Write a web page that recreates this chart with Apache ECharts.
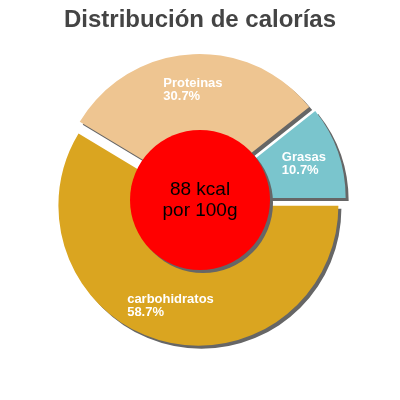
<!DOCTYPE html>
<html>
<head>
<meta charset="utf-8">
<script src="https://cdn.jsdelivr.net/npm/echarts@6/dist/echarts.min.js"></script>
<style>
  html, body { margin: 0; padding: 0; background: #fff; }
  #chart { width: 400px; height: 400px; }
</style>
</head>
<body>
<div id="chart"></div>
<script>
const categories = ['carbohidratos', 'Proteinas', 'Grasas']
const percents = [58.7, 30.7, 10.7]
const sliceColors = ['#DAA520', '#EEC591', '#7AC5CD']
const centerLines = ['88 kcal', 'por 100g']
const titleText = 'Distribución de calorías'

const shadow = {
  shadowColor: '#666',
  shadowBlur: 0,
  shadowOffsetX: 3,
  shadowOffsetY: 3
}

const myChart = echarts.init(document.getElementById('chart'))
const options = {
  animation: false,
  title: {
    text: titleText,
    left: 'center',
    top: 3,
    textStyle: {
      fontFamily: 'Liberation Sans, Arial, sans-serif',
      fontSize: 24,
      fontWeight: 'bold',
      color: '#444'
    }
  },
  series: [
    {
      type: 'pie',
      center: [200, 200],
      // inner edge hides under the red circle
      radius: ['31%', '70%'],
      startAngle: 0,
      clockwise: true,
      selectedMode: 'multiple',
      selectedOffset: 6,
      avoidLabelOverlap: false,
      emphasis: { disabled: true },
      silent: true,
      itemStyle: { ...shadow },
      label: {
        show: true,
        position: 'inside',
        formatter: '{t|{b}}\n{t|{c}%}',
        rich: {
          t: {
            align: 'left',
            color: '#fff',
            fontFamily: 'Liberation Sans, Arial, sans-serif',
            fontSize: 13,
            fontWeight: 'bold',
            lineHeight: 13
          }
        }
      },
      labelLine: { show: false },
      data: categories.map((name, i) => ({
        name,
        value: percents[i],
        selected: true,
        itemStyle: { color: sliceColors[i] }
      }))
    },
    {
      type: 'pie',
      center: [200, 200],
      radius: [0, '35%'],
      silent: true,
      emphasis: { disabled: true },
      itemStyle: { color: '#FF0000', ...shadow },
      label: {
        show: true,
        position: 'center',
        formatter: centerLines.join('\n'),
        color: '#000',
        fontFamily: 'Liberation Sans, Arial, sans-serif',
        fontSize: 19,
        lineHeight: 21
      },
      labelLine: { show: false },
      data: [{ name: 'kcal', value: 1 }]
    }
  ]
}
myChart.setOption(options)
</script>
</body>
</html>
